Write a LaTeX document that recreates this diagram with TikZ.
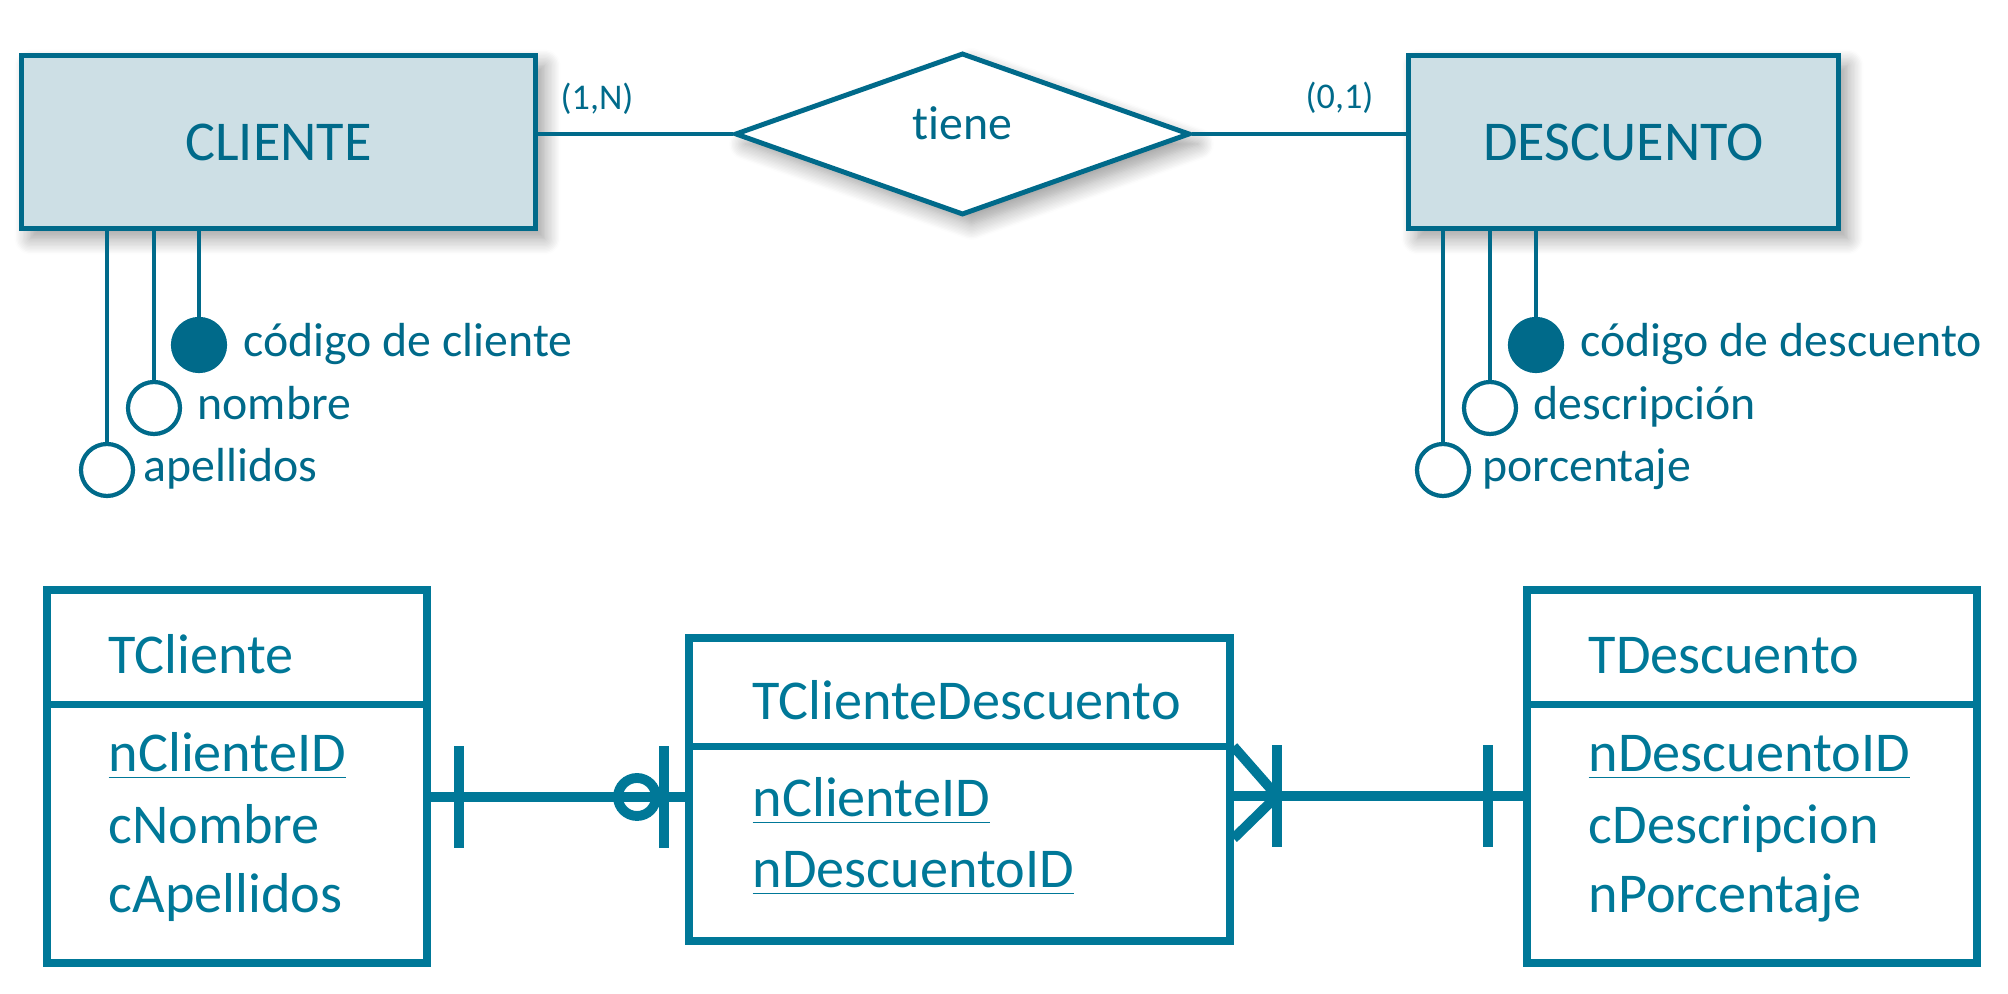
\documentclass[tikz,border=0pt]{standalone}
\usepackage{fontspec}
\setmainfont{Carlito}[Ligatures=NoCommon]
\usepackage{tikz}
\usetikzlibrary{shapes.geometric,shadows.blur,calc,positioning}
\definecolor{erAzul}{RGB}{0,106,138}
\definecolor{erFondo}{RGB}{205,223,229}
\definecolor{tabAzul}{RGB}{0,120,152}
\tikzset{
	entidad/.style={draw=erAzul, line width=1.4pt, fill=erFondo, text=erAzul,
		font=\fontsize{16pt}{19pt}\selectfont,
		blur shadow={shadow xshift=.9mm, shadow yshift=-1mm, shadow blur radius=1.6mm, shadow blur steps=12, shadow opacity=40}},
	relacion/.style={entidad, diamond, fill=white, inner sep=0pt,
		font=\fontsize{13.6pt}{16pt}\selectfont, text height=.33cm, text depth=.21cm},
	erlinea/.style={draw=erAzul, line width=1.4pt},
	atrlinea/.style={draw=erAzul, line width=1.15pt},
	atrib/.style={circle, draw=erAzul, line width=1.2pt, fill=white, minimum size=.52cm, inner sep=0pt},
	clave/.style={atrib, fill=erAzul},
	atrtxt/.style={anchor=base west, inner sep=0pt, text=erAzul, font=\fontsize{13.6pt}{16pt}\selectfont},
	cardtxt/.style={anchor=base west, inner sep=0pt, text=erAzul, font=\fontsize{10.3pt}{12pt}\selectfont},
	tabla/.style={draw=tabAzul, line width=2pt, inner sep=0pt},
	tablinea/.style={draw=tabAzul, line width=2pt},
	campo/.style={anchor=base west, inner sep=0pt, text=tabAzul, font=\fontsize{16pt}{19pt}\selectfont},
	conector/.style={draw=tabAzul, line width=2.8pt}
}
\newcommand{\crossBar}[2]{
	\draw[conector] ($#1+(0,-#2)$) -- ($#1+(0,#2)$);
}

\begin{document}
\begin{tikzpicture}
	\useasboundingbox (0,0) rectangle (20.08,-9.94);
	% modelo entidad-relacion
	\node[entidad, minimum width=5.14cm, minimum height=1.73cm] (cliente) at (2.785,-1.42) {CLIENTE};
	\node[entidad, minimum width=4.30cm, minimum height=1.73cm] (descuento) at (16.235,-1.42) {DESCUENTO};
	\node[relacion, minimum width=4.55cm, minimum height=1.62cm] (tiene) at (9.625,-1.34) {tiene};
	\draw[erlinea] (cliente.east |- tiene.west) -- (tiene.west);
	\draw[erlinea] (tiene.east) -- (descuento.west |- tiene.east);
	\node[cardtxt] (cardCli) at (5.60,-1.10) {(1,N)};
	\node[cardtxt] (cardDes) at (13.05,-1.09) {(0,1)};
	% atributos de CLIENTE
	\node[clave] (codCli) at (1.99,-3.45) {};
	\node[atrib] (nomCli) at (1.54,-4.08) {};
	\node[atrib] (apeCli) at (1.07,-4.70) {};
	\draw[atrlinea] (codCli.north) -- (codCli |- cliente.south);
	\draw[atrlinea] (nomCli.north) -- (nomCli |- cliente.south);
	\draw[atrlinea] (apeCli.north) -- (apeCli |- cliente.south);
	\node[atrtxt] (codCliTxt) at (2.43,-3.57) {código de cliente};
	\node[atrtxt] (nomCliTxt) at (1.97,-4.20) {nombre};
	\node[atrtxt] (apeCliTxt) at (1.43,-4.82) {apellidos};
	% atributos de DESCUENTO
	\node[clave] (codDes) at (15.36,-3.45) {};
	\node[atrib] (desDes) at (14.90,-4.08) {};
	\node[atrib] (porDes) at (14.43,-4.70) {};
	\draw[atrlinea] (codDes.north) -- (codDes |- descuento.south);
	\draw[atrlinea] (desDes.north) -- (desDes |- descuento.south);
	\draw[atrlinea] (porDes.north) -- (porDes |- descuento.south);
	\node[atrtxt] (codDesTxt) at (15.80,-3.57) {código de descuento};
	\node[atrtxt] (desDesTxt) at (15.33,-4.20) {descripción};
	\node[atrtxt] (porDesTxt) at (14.82,-4.82) {porcentaje};
	% modelo relacional
	\node[tabla, minimum width=3.80cm, minimum height=3.73cm] (tCliente) at (2.37,-7.765) {};
	\node[tabla, minimum width=5.41cm, minimum height=3.03cm] (tCliDes) at (9.595,-7.895) {};
	\node[tabla, minimum width=4.50cm, minimum height=3.73cm] (tDescuento) at (17.52,-7.765) {};
	\draw[tablinea] ($(tCliente.north west)+(0,-1.18)$) -- ($(tCliente.north east)+(0,-1.18)$);
	\draw[tablinea] ($(tCliDes.north west)+(0,-1.12)$) -- ($(tCliDes.north east)+(0,-1.12)$);
	\draw[tablinea] ($(tDescuento.north west)+(0,-1.18)$) -- ($(tDescuento.north east)+(0,-1.18)$);
	\node[campo] (tCliNom) at (1.08,-6.74) {TCliente};
	\node[campo] (tCliId) at (1.08,-7.72) {\underline{nClienteID}};
	\node[campo] (tCliNombre) at (1.08,-8.44) {cNombre};
	\node[campo] (tCliApe) at (1.08,-9.13) {cApellidos};
	\node[campo] (tCdNom) at (7.52,-7.20) {TClienteDescuento};
	\node[campo] (tCdCli) at (7.52,-8.17) {\underline{nClienteID}};
	\node[campo] (tCdDes) at (7.52,-8.88) {\underline{nDescuentoID}};
	\node[campo] (tDesNom) at (15.88,-6.74) {TDescuento};
	\node[campo] (tDesId) at (15.88,-7.72) {\underline{nDescuentoID}};
	\node[campo] (tDesDes) at (15.88,-8.44) {cDescripcion};
	\node[campo] (tDesPor) at (15.88,-9.13) {nPorcentaje};
	% relaciones
	\coordinate (nivelA) at (0,-7.97);
	\coordinate (nivelB) at (0,-7.96);
	\draw[conector] (tCliente.east |- nivelA) -- (tCliDes.west |- nivelA);
	\crossBar{(4.59,-7.97)}{.51}
	\crossBar{(6.64,-7.97)}{.51}
	\draw[conector] (6.37,-7.97) circle (.19);
	\draw[conector] (tCliDes.east |- nivelB) -- (tDescuento.west |- nivelB);
	\crossBar{(12.77,-7.96)}{.51}
	\crossBar{(14.88,-7.96)}{.51}
	\draw[conector] ($(tCliDes.north east)+(0,-1.12)$) -- (12.77,-7.96) -- ($(tCliDes.north east)+(0,-2.04)$);
\end{tikzpicture}
\end{document}
